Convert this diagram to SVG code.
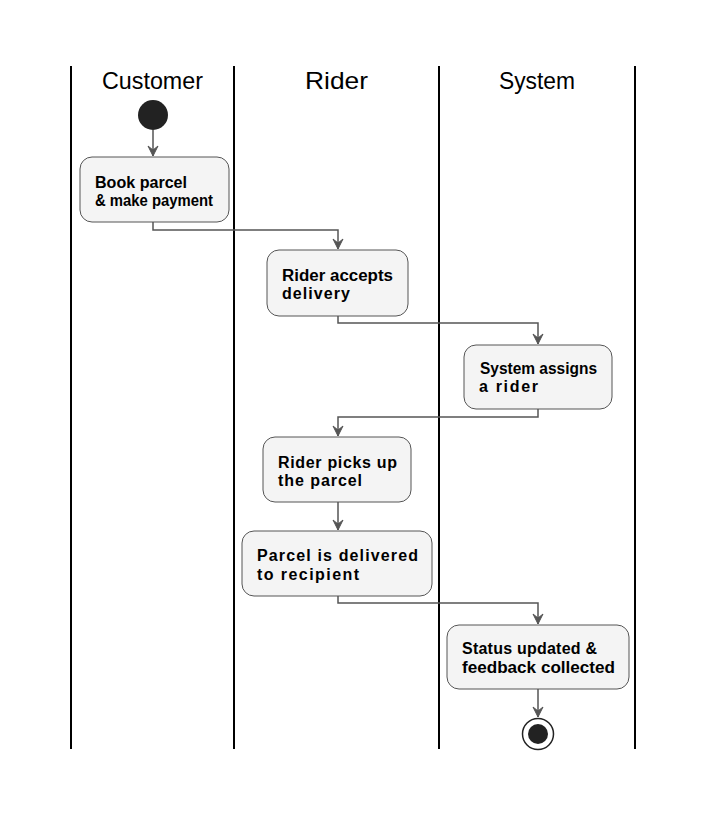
<svg xmlns="http://www.w3.org/2000/svg" width="716" height="817" viewBox="0 0 716 817">
<style>
.lane{stroke:#000;stroke-width:2;fill:none}
.hd{font-family:"Liberation Sans",Arial,sans-serif;font-size:24px;fill:#000}
.box{fill:#f4f4f4;stroke:#555;stroke-width:1}
.t{font-family:"Liberation Sans",Arial,sans-serif;font-size:16px;font-weight:bold;fill:#000}
.c{fill:none;stroke:#555;stroke-width:1.5}
</style>
<defs>
<marker id="ah" markerWidth="12" markerHeight="12" viewBox="0 0 12 12" refX="11" refY="6" orient="auto" markerUnits="userSpaceOnUse">
<path d="M1,1 L11,6 L1,11 L5,6 Z" fill="#555" stroke="#555" stroke-width="1" stroke-linejoin="round"/>
</marker>
</defs>
<rect width="716" height="817" fill="#fff"/>
<g id="lanes">
<line class="lane" x1="71" y1="66" x2="71" y2="749"/>
<line class="lane" x1="234" y1="66" x2="234" y2="749"/>
<line class="lane" x1="439" y1="66" x2="439" y2="749"/>
<line class="lane" x1="635" y1="66" x2="635" y2="749"/>
<text class="hd" x="102" y="89" textLength="101" lengthAdjust="spacingAndGlyphs">Customer</text>
<text class="hd" x="305" y="89" textLength="63" lengthAdjust="spacingAndGlyphs">Rider</text>
<text class="hd" x="499" y="89" textLength="76" lengthAdjust="spacingAndGlyphs">System</text>
</g>
<g id="connectors">
<path class="c" d="M153,130 V156" marker-end="url(#ah)"/>
<path class="c" d="M153,222 V230 H338 V249" marker-end="url(#ah)"/>
<path class="c" d="M338,316 V323 H538 V344" marker-end="url(#ah)"/>
<path class="c" d="M538,409 V417 H338 V436" marker-end="url(#ah)"/>
<path class="c" d="M338,502 V530" marker-end="url(#ah)"/>
<path class="c" d="M338,596 V603 H538 V624" marker-end="url(#ah)"/>
<path class="c" d="M538,689 V717" marker-end="url(#ah)"/>
</g>
<g id="start"><circle cx="153" cy="115" r="15" fill="#222"/></g>
<g id="n1">
<rect class="box" x="80" y="157" width="149" height="65" rx="12"/>
<text class="t" x="95" y="188" textLength="92" lengthAdjust="spacingAndGlyphs">Book parcel</text>
<text class="t" x="95" y="206" textLength="118" lengthAdjust="spacingAndGlyphs">&amp; make payment</text>
</g>
<g id="n2">
<rect class="box" x="267" y="250" width="141" height="66" rx="12"/>
<text class="t" x="282" y="281" textLength="111" lengthAdjust="spacingAndGlyphs">Rider accepts</text>
<text class="t" x="282" y="299" textLength="68" lengthAdjust="spacing">delivery</text>
</g>
<g id="n3">
<rect class="box" x="464" y="345" width="148" height="64" rx="12"/>
<text class="t" x="480" y="374" textLength="117" lengthAdjust="spacingAndGlyphs">System assigns</text>
<text class="t" x="479" y="392" textLength="59" lengthAdjust="spacing">a rider</text>
</g>
<g id="n4">
<rect class="box" x="263" y="437" width="148" height="65" rx="12"/>
<text class="t" x="278" y="468" textLength="119" lengthAdjust="spacing">Rider picks up</text>
<text class="t" x="278" y="486" textLength="84" lengthAdjust="spacing">the parcel</text>
</g>
<g id="n5">
<rect class="box" x="242" y="531" width="190" height="65" rx="12"/>
<text class="t" x="257" y="561" textLength="161" lengthAdjust="spacing">Parcel is delivered</text>
<text class="t" x="257" y="580" textLength="102" lengthAdjust="spacing">to recipient</text>
</g>
<g id="n6">
<rect class="box" x="447" y="625" width="182" height="64" rx="12"/>
<text class="t" x="462" y="654" textLength="135" lengthAdjust="spacing">Status updated &amp;</text>
<text class="t" x="462" y="673" textLength="153" lengthAdjust="spacingAndGlyphs">feedback collected</text>
</g>
<g id="end">
<circle cx="538" cy="734" r="15.5" fill="#fff" stroke="#222" stroke-width="1.5"/>
<circle cx="538" cy="734" r="10" fill="#222"/>
</g>
</svg>
